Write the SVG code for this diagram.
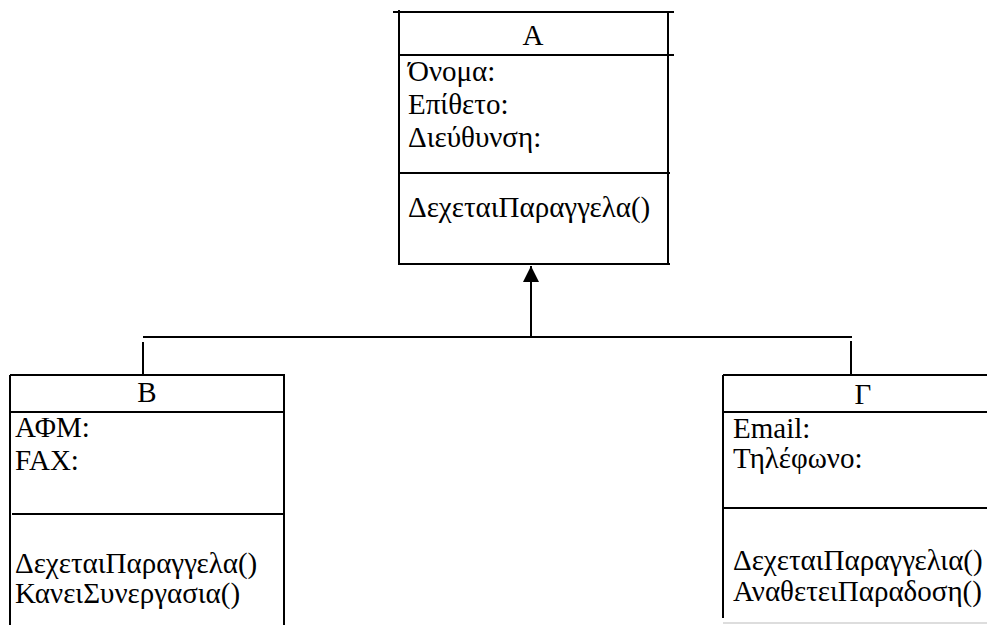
<svg xmlns="http://www.w3.org/2000/svg" width="987" height="625" viewBox="0 0 987 625">
  <style>
    .ln { stroke: #000; stroke-width: 2; fill: none; }
    .tx { font-family: "Liberation Serif", "Times New Roman", "DejaVu Serif", serif; font-size: 29px; fill: #000; }
    .ttl { text-anchor: middle; }
  </style>
  <defs>
    <marker id="tri" viewBox="0 0 10 10" refX="10" refY="5" markerWidth="16" markerHeight="16" markerUnits="userSpaceOnUse" orient="auto">
      <path d="M0,0 L10,5 L0,10 Z" fill="#000"/>
    </marker>
  </defs>

  <!-- class A -->
  <g id="class-A">
    <line class="ln" x1="393" y1="12" x2="674" y2="12"/>
    <line class="ln" x1="399" y1="10" x2="399" y2="265"/>
    <line class="ln" x1="668" y1="12" x2="668" y2="265"/>
    <line class="ln" x1="399" y1="55" x2="674" y2="55"/>
    <line class="ln" x1="399" y1="173" x2="670" y2="173"/>
    <line class="ln" x1="400" y1="264" x2="670" y2="264"/>
    <text class="tx ttl" x="533" y="45">A</text>
    <text class="tx" x="408" y="81">Όνομα:</text>
    <text class="tx" x="408" y="114">Επίθετο:</text>
    <text class="tx" x="408" y="147">Διεύθυνση:</text>
    <text class="tx" x="408" y="217">ΔεχεταιΠαραγγελα()</text>
  </g>

  <!-- class B -->
  <g id="class-B">
    <line class="ln" x1="10" y1="375" x2="285" y2="375"/>
    <line class="ln" x1="10" y1="375" x2="10" y2="625"/>
    <line class="ln" x1="284" y1="375" x2="284" y2="625"/>
    <line class="ln" x1="10" y1="412" x2="285" y2="412"/>
    <line class="ln" x1="12" y1="514" x2="284" y2="514"/>
    <text class="tx ttl" x="147" y="402">B</text>
    <text class="tx" x="15" y="437">ΑΦΜ:</text>
    <text class="tx" x="15" y="470">FAX:</text>
    <text class="tx" x="15" y="573">ΔεχεταιΠαραγγελα()</text>
    <text class="tx" x="15" y="603">ΚανειΣυνεργασια()</text>
  </g>

  <!-- class Γ -->
  <g id="class-G">
    <line class="ln" x1="723" y1="375" x2="987" y2="375"/>
    <line class="ln" x1="723" y1="375" x2="723" y2="618"/>
    <line class="ln" x1="723" y1="412" x2="987" y2="412"/>
    <line class="ln" x1="723" y1="508" x2="987" y2="508"/>
    <line x1="723" y1="623" x2="987" y2="623" stroke="#bbb" stroke-width="1"/>
    <text class="tx ttl" x="863" y="404">Γ</text>
    <text class="tx" x="733" y="438">Email:</text>
    <text class="tx" x="733" y="468">Τηλέφωνο:</text>
    <text class="tx" x="733" y="570">ΔεχεταιΠαραγγελια()</text>
    <text class="tx" x="733" y="601">ΑναθετειΠαραδοση()</text>
  </g>

  <!-- generalisation connectors -->
  <g id="connectors">
    <line class="ln" x1="531" y1="337" x2="531" y2="266" marker-end="url(#tri)"/>
    <line class="ln" x1="143" y1="337" x2="852" y2="337"/>
    <line class="ln" x1="143" y1="342" x2="143" y2="374"/>
    <line class="ln" x1="851" y1="341" x2="851" y2="374"/>
  </g>
</svg>
